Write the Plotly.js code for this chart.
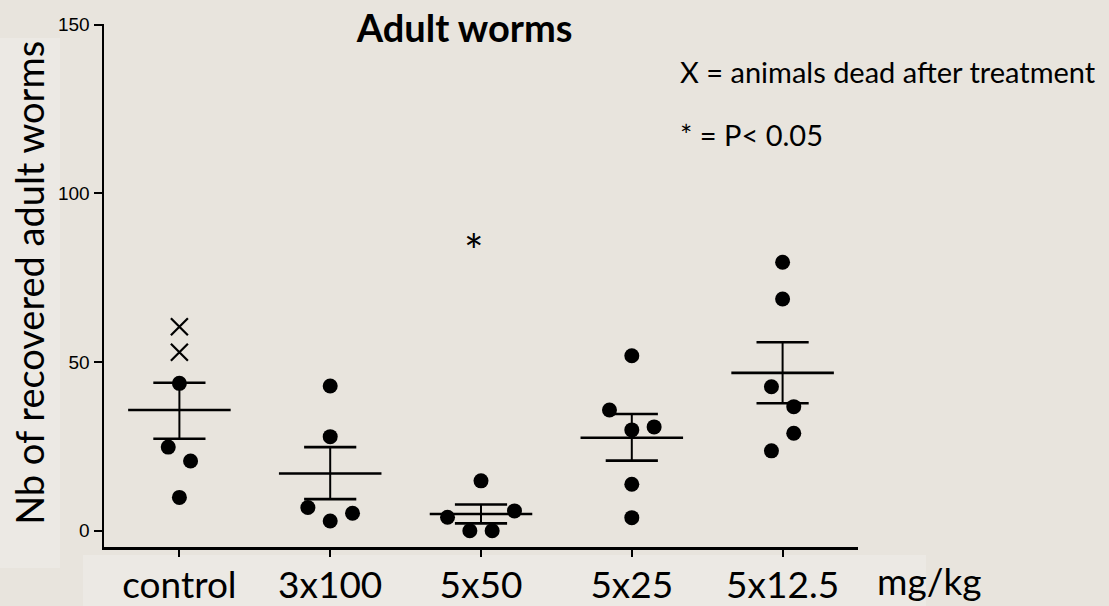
<!DOCTYPE html>
<html>
<head>
<meta charset="utf-8">
<script src="https://cdn.plot.ly/plotly-3.0.1.min.js"></script>
<style>
html,body{margin:0;padding:0;background:#E8E4DD;}
#chart{width:1109px;height:606px;}
</style>
</head>
<body>
<div id="chart"></div>
<script>
// ---- data ----
const groups = ['control', '3x100', '5x50', '5x25', '5x12.5'];
const aliveValues = [
  [43.7, 24.8, 20.7, 9.9],
  [42.9, 27.9, 6.9, 2.9, 5.2],
  [14.8, 4.0, 0.0, 0.0, 5.9],
  [51.9, 35.8, 29.9, 30.8, 13.8, 3.9],
  [79.6, 68.7, 42.7, 36.8, 28.9, 23.7]
];
// swarm column index of each point (half-steps left/right of the group centre)
const aliveColumns = [
  [0, -1, 1, 0],
  [0, 0, -2, 0, 2],
  [0, -3, -1, 1, 3],
  [0, -2, 0, 2, 0, 0],
  [0, 0, -1, 1, 1, -1]
];
const deadValues = [[60.5, 52.9], [], [], [], []];
const means = [35.8, 17.0, 5.0, 27.6, 46.8];
const semUpper = [43.9, 24.8, 7.8, 34.6, 55.9];
const semLower = [27.3, 9.4, 2.2, 20.8, 37.8];
const significant = [false, false, true, false, false];
const significanceLevel = 83;
const yTicks = [0, 50, 100, 150];

// ---- styling constants ----
const COL_STEP = 0.074;
const MEAN_HALF = 0.34;
const CAP_HALF = 0.173;
const BG = '#E8E4DD';
const PANEL = '#ECE9E4';
const FONT = 'Lato, sans-serif';

const traces = [];

// mean and SEM lines
const mx = [], my = [];
const vx = [], vy = [];
groups.forEach((g, i) => {
  mx.push(i - MEAN_HALF, i + MEAN_HALF, null); my.push(means[i], means[i], null);
  mx.push(i - CAP_HALF, i + CAP_HALF, null); my.push(semUpper[i], semUpper[i], null);
  mx.push(i - CAP_HALF, i + CAP_HALF, null); my.push(semLower[i], semLower[i], null);
  vx.push(i, i, null); vy.push(semLower[i], semUpper[i], null);
});
traces.push({x: mx, y: my, mode: 'lines', line: {color: '#000', width: 2.6}, hoverinfo: 'skip', showlegend: false});
traces.push({x: vx, y: vy, mode: 'lines', line: {color: '#000', width: 2}, hoverinfo: 'skip', showlegend: false});

// alive animals
const ax = [], ay = [];
aliveValues.forEach((vals, i) => vals.forEach((v, j) => { ax.push(i + aliveColumns[i][j] * COL_STEP); ay.push(v); }));
traces.push({x: ax, y: ay, mode: 'markers', marker: {symbol: 'circle', size: 15, color: '#000'}, showlegend: false});

// dead animals
const dx = [], dy = [];
deadValues.forEach((vals, i) => vals.forEach(v => { dx.push(i); dy.push(v); }));
traces.push({x: dx, y: dy, mode: 'markers', marker: {symbol: 'x-thin-open', size: 17, color: '#000', line: {color: '#000', width: 2.2}}, showlegend: false});

const annotations = [
  {text: 'X = animals dead after treatment', xref: 'paper', yref: 'paper', x: 0.7613, y: 0.910, xanchor: 'left', yanchor: 'middle', showarrow: false, font: {family: FONT, size: 29, color: '#000'}},
  {text: '* = P< 0.05', xref: 'paper', yref: 'paper', x: 0.7613, y: 0.788, xanchor: 'left', yanchor: 'middle', showarrow: false, font: {family: FONT, size: 29, color: '#000'}},
  {text: 'mg/kg', xref: 'paper', yref: 'paper', x: 1.094, y: -0.0707, xanchor: 'center', yanchor: 'middle', yshift: 3, showarrow: false, font: {family: FONT, size: 37, color: '#000'}},
  {text: 'Nb of recovered adult worms', xref: 'paper', yref: 'paper', x: -0.0995, y: 0.505, xanchor: 'center', yanchor: 'middle', textangle: -90, showarrow: false, font: {family: FONT, size: 38, color: '#000'}}
];
significant.forEach((s, i) => {
  if (s) annotations.push({text: '*', x: i, y: significanceLevel, xanchor: 'center', yanchor: 'middle', xshift: -7, showarrow: false, font: {family: FONT, size: 46, color: '#000'}});
});

const layout = {
  width: 1109, height: 606,
  margin: {l: 104, r: 251, t: 24, b: 59},
  paper_bgcolor: BG, plot_bgcolor: BG,
  showlegend: false,
  title: {text: '<b>Adult worms</b>', xref: 'container', yref: 'container', x: 0.419, y: 0.952, xanchor: 'center', yanchor: 'middle', font: {family: FONT, size: 38, color: '#000'}},
  xaxis: {
    range: [-0.5, 4.5], tickmode: 'array', tickvals: groups.map((g, i) => i), ticktext: groups,
    showline: true, linecolor: '#000', linewidth: 2.5, ticks: 'outside', ticklen: 7, tickwidth: 2, tickcolor: '#000',
    showgrid: false, zeroline: false, fixedrange: true, ticklabelstandoff: -3,
    tickfont: {family: FONT, size: 37, color: '#000'}
  },
  yaxis: {
    range: [-4.8, 150.2], tickmode: 'array', tickvals: yTicks, ticktext: yTicks.map(String),
    showline: true, linecolor: '#000', linewidth: 2.5, ticks: 'outside', ticklen: 8, tickwidth: 2, tickcolor: '#000',
    showgrid: false, zeroline: false, fixedrange: true,
    tickfont: {family: '"Liberation Sans Narrow", "Arial Narrow", sans-serif', size: 19, color: '#000'}
  },
  shapes: [
    {type: 'rect', xref: 'paper', yref: 'paper', x0: -104/754, x1: -44/754, y0: 1 - (568-24)/523, y1: 1 - (38-24)/523, fillcolor: PANEL, line: {width: 0}, layer: 'below'},
    {type: 'rect', xref: 'paper', yref: 'paper', x0: -21/754, x1: (926-104)/754, y0: 1 - (606-24)/523, y1: 1 - (555-24)/523, fillcolor: PANEL, line: {width: 0}, layer: 'below'}
  ],
  annotations: annotations
};

Plotly.newPlot('chart', traces, layout, {displayModeBar: false, staticPlot: true});
</script>
</body>
</html>
